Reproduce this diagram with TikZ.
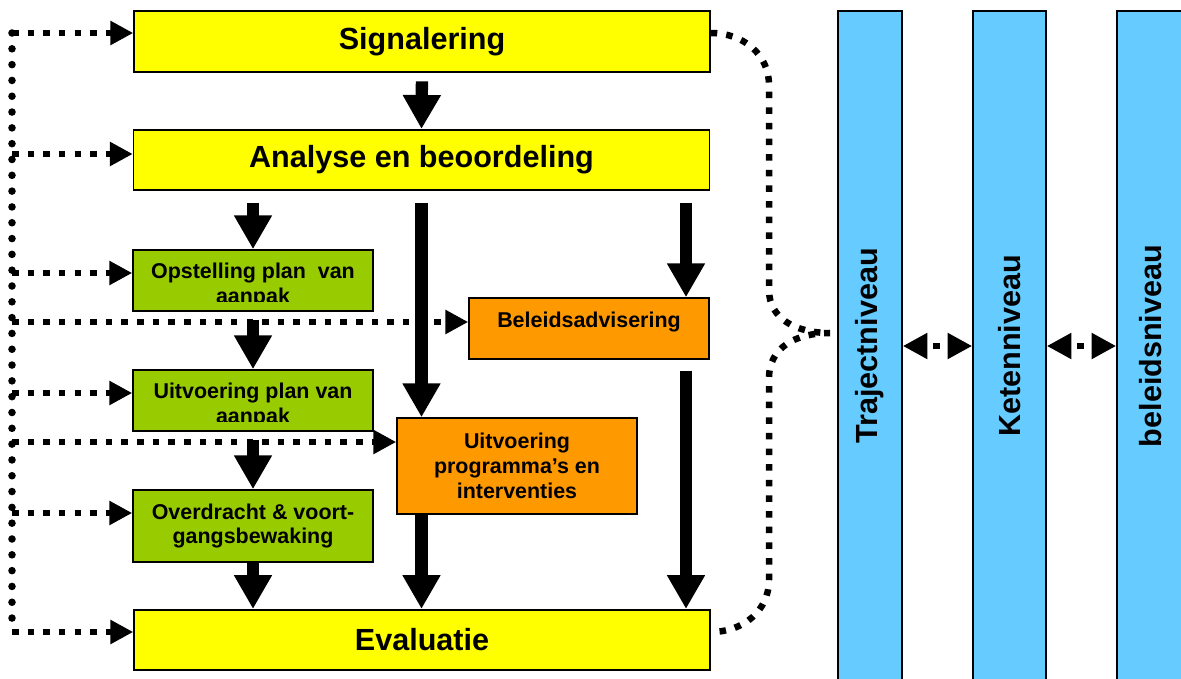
\documentclass[tikz,border=0pt]{standalone}
\usepackage{fontspec}
\setmainfont{Liberation Sans}
\usetikzlibrary{arrows.meta,calc}

\definecolor{stepyellow}{HTML}{FFFF00}
\definecolor{plangreen}{HTML}{99CC00}
\definecolor{progorange}{HTML}{FF9900}
\definecolor{levelblue}{HTML}{66CCFF}

\newcommand*{\spinex}{12}
\newcommand*{\bigtxt}{\fontsize{17.4}{20}\selectfont\bfseries}
\newcommand*{\smalltxt}{\fontsize{12.2}{14.2}\selectfont\bfseries}

\begin{document}
\begin{tikzpicture}
[
	x=0.02cm, y=-0.02cm,
	box/.style={draw=black,line width=0.9pt,inner sep=0pt,align=center},
	ybox/.style={box,fill=stepyellow,minimum width=11.52cm,minimum height=1.21cm,font=\bigtxt},
	gbox/.style={box,fill=plangreen,minimum width=4.8cm,minimum height=1.22cm,font=\smalltxt},
	obox/.style={box,fill=progorange,minimum width=4.8cm,minimum height=1.22cm,font=\smalltxt},
	bar/.style={box,fill=levelblue,rotate=90,minimum width=13.4cm,font=\bigtxt},
	txt/.style={inner sep=0pt,align=center,font=\smalltxt},
	blk/.style={line width=7pt,-{Triangle[length=19.3pt,width=20.4pt]}},
	dotln/.style={line width=3.7pt,dash pattern=on 3.7pt off 5.2pt},
	dotarr/.style={dotln,-{Triangle[length=13pt,width=13pt]}},
	spine/.style={line width=4.3pt,line cap=round,dash pattern=on 0pt off 9pt},
	dblarr/.style={dotln,dash phase=4.6pt,{Triangle[length=14pt,width=14pt]}-{Triangle[length=14pt,width=14pt]}}
]

	\useasboundingbox (0,0) rectangle (1181,679);

	% process steps
	\node[ybox] (sig) at (422,41.5) {Signalering};
	\node[ybox] (ana) at (421.5,160) {Analyse en beoordeling};
	\node[gbox] (opst) at (253,280.5) {};
	\node[gbox] (uplan) at (253,400.5) {};
	\node[gbox,minimum height=1.44cm] (overd) at (253,526) {Overdracht \& voort-\\gangsbewaking};
	\node[obox] (bel) at (589,328.5) {};
	\node[obox,minimum height=1.92cm] (prog) at (517,466) {Uitvoering\\programma’s en\\interventies};
	\node[ybox] (eval) at (422,640) {Evaluatie};

	% texts cut off at the bottom
	\begin{scope}
		\clip (opst.north west) rectangle ($(opst.south east)+(0,-10)$);
		\node[txt,anchor=north] (opsttxt) at ($(opst.north)+(0,13)$) {Opstelling plan\ \ van\\aanpak};
	\end{scope}
	\begin{scope}
		\clip (uplan.north west) rectangle ($(uplan.south east)+(0,-10)$);
		\node[txt,anchor=north] (uplantxt) at ($(uplan.north)+(0,13)$) {Uitvoering plan van\\aanpak};
	\end{scope}
	\node[txt] (beltxt) at ($(bel)+(0,-6)$) {Beleidsadvisering};

	% levels
	\node[bar,minimum height=1.28cm] (traj) at (870,346) {Trajectniveau};
	\node[bar,minimum height=1.46cm] (ketn) at (1009.5,346) {Ketenniveau};
	\node[bar,minimum height=1.36cm] (beln) at (1151,346) {beleidsniveau};

	% block arrows
	\coordinate (belin) at ($(bel.north)+(97,0)$);
	\coordinate (belout) at ($(bel.south)+(97,0)$);
	\draw[blk,shorten <=5pt] (sig.south) -- (ana.north);
	\draw[blk,shorten <=6.8pt] (ana.south -| opst.north) -- (opst.north);
	\draw[blk,shorten <=6.8pt] (ana.south) -- (ana.south |- prog.north);
	\draw[blk,shorten <=6.8pt] (ana.south -| belin) -- (belin);
	\draw[blk,shorten <=4.5pt] (opst.south) -- (uplan.north);
	\draw[blk,shorten <=4.5pt] (uplan.south) -- (overd.north);
	\draw[blk] (overd.south) -- (overd.south |- eval.north);
	\draw[blk] (prog.south -| ana.south) -- (eval.north -| ana.south);
	\draw[blk,shorten <=6.2pt] (belout) -- (belout |- eval.north);

	% feedback on the left
	\coordinate (ltop) at (\spinex,33);
	\coordinate (lbot) at (\spinex,632);
	\draw[spine] (ltop) -- (lbot);
	\foreach \yy/\tgt in {33/sig,154/ana,273/opst,322/bel,393/uplan,442/prog,513/overd,632/eval} {
		\coordinate (l\tgt) at (\spinex,\yy);
		\draw[dotarr] (l\tgt) -- (l\tgt -| \tgt.west);
	}

	% brace to the levels
	\coordinate (tip) at (830,333);
	\draw[dotln] (ltop -| sig.east) .. controls (744,33) and (769,55) .. (769,85)
		-- (769,290) .. controls (769,318) and (795,333) .. (tip)
		.. controls (795,333) and (769,348) .. (769,378)
		-- (769,580) .. controls (769,610) and (744,632) .. (lbot -| eval.east);

	% between levels
	\draw[dblarr] (traj.south) -- (ketn.north);
	\draw[dblarr] (ketn.south) -- (beln.north);

\end{tikzpicture}
\end{document}
